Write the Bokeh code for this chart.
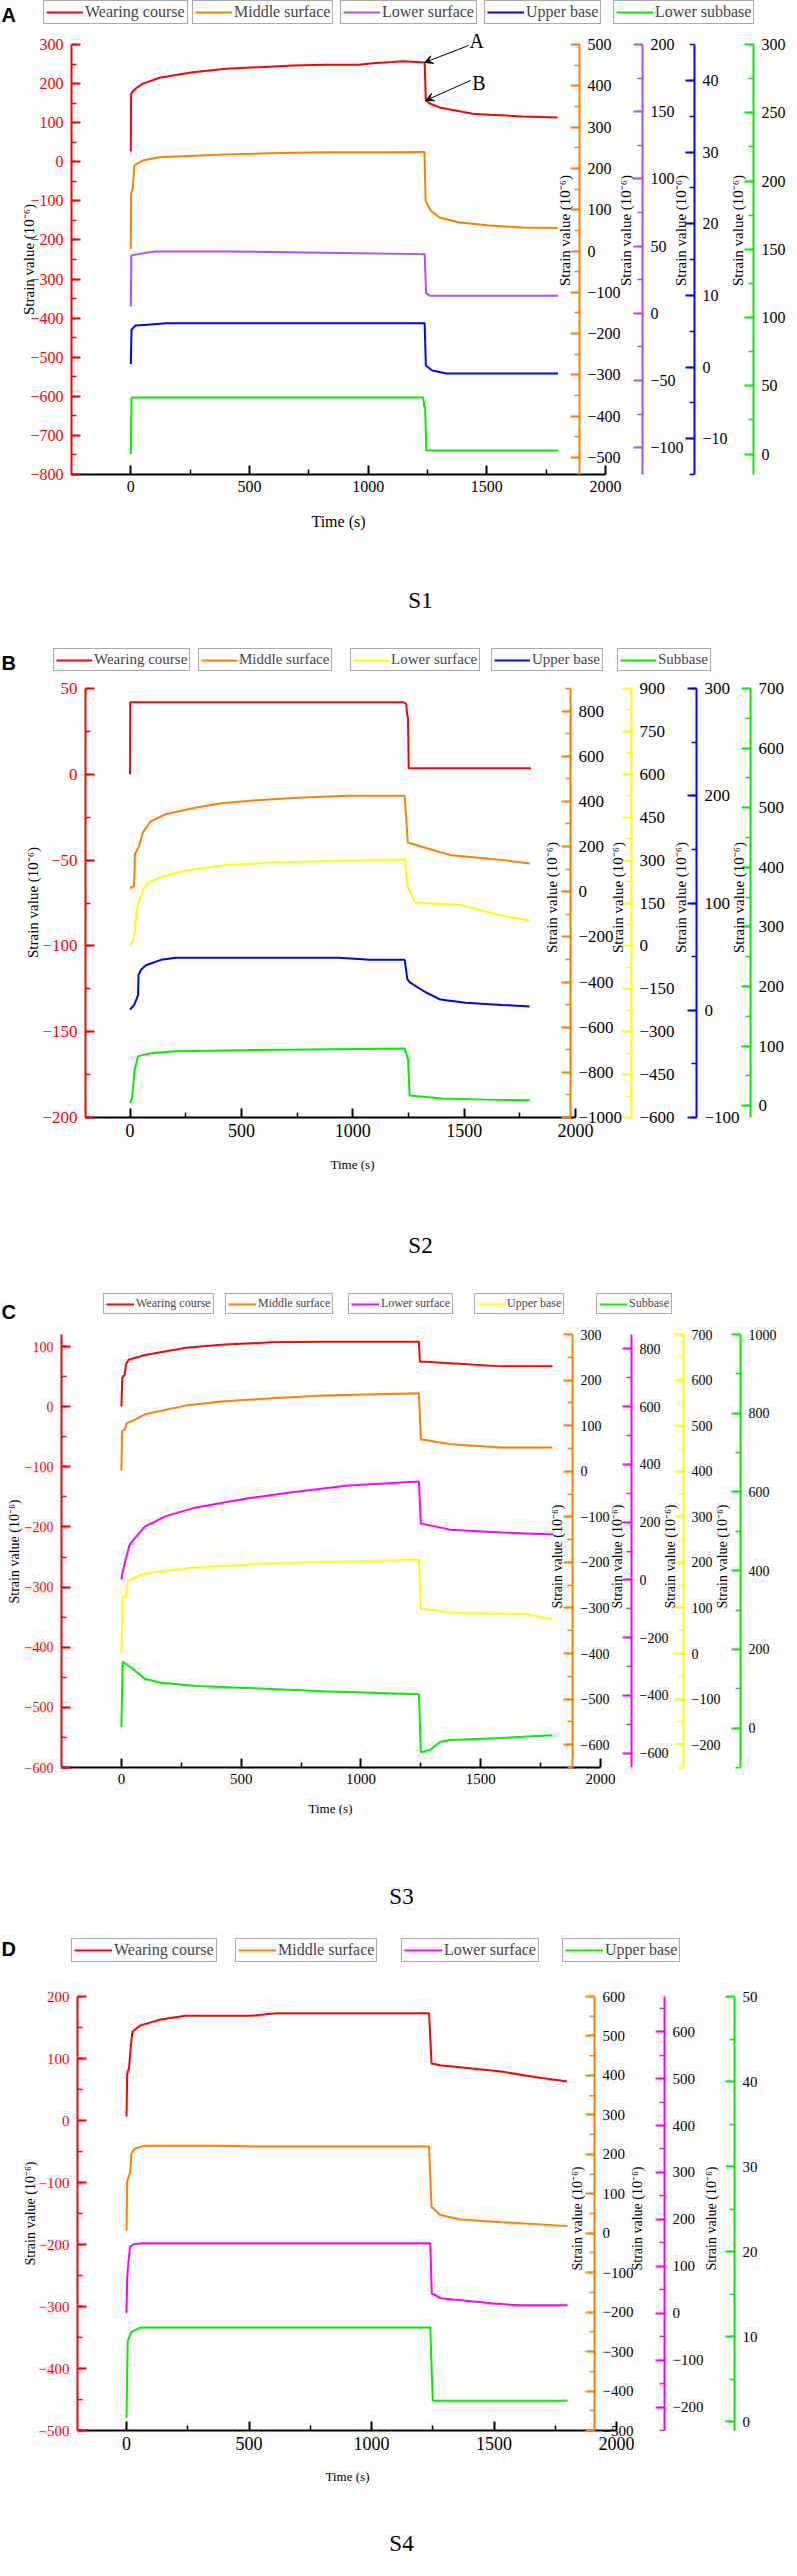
import math
from bokeh.plotting import figure
from bokeh.models import (Range1d, LinearAxis, SingleIntervalTicker, FixedTicker, Legend, LegendItem,
                          Label, Arrow, VeeHead)
from bokeh.layouts import column
from bokeh.embed import file_html
from bokeh.resources import INLINE

# ---------------- data ----------------
LABELS_A = ["Wearing course", "Middle surface", "Lower surface", "Upper base", "Lower subbase"]
LABELS_BC = ["Wearing course", "Middle surface", "Lower surface", "Upper base", "Subbase"]
LABELS_D = ["Wearing course", "Middle surface", "Lower surface", "Upper base"]
CAPTIONS = ["S1", "S2", "S3", "S4"]
PANEL_LETTERS = ["A", "B", "C", "D"]
X_TICKS = [0, 500, 1000, 1500, 2000]
X_MINOR = [250, 750, 1250, 1750]

# Panel A (S1)
A_t_red = [0, 1, 8, 22, 50, 93, 122, 190, 261, 400, 543, 682, 821, 960, 1019, 1103, 1145, 1238, 1243, 1260, 1300, 1385, 1440, 1511, 1650, 1798]
A_v_red = [26, 172, 180, 188, 200, 209, 215, 222, 229, 238, 242, 246, 248, 248, 252, 255, 257, 254, 157, 149, 139, 129, 123, 120, 116, 113]
A_t_mid = [0, 1, 8, 15, 30, 50, 93, 120, 190, 400, 543, 682, 821, 1103, 1237, 1242, 1263, 1300, 1385, 1511, 1650, 1798]
A_v_mid = [5, 139, 151, 207, 213, 219, 224, 227, 229, 234, 236, 238, 239, 239, 240, 122, 98, 81, 69, 62, 57, 56]
A_t_low = [0, 2, 30, 100, 400, 800, 1238, 1244, 1260, 1800]
A_v_low = [5, 43, 44, 46, 46, 45, 44, 15, 13, 13]
A_t_up = [0, 3, 20, 70, 150, 1238, 1243, 1270, 1330, 1800]
A_v_up = [0.4, 5.2, 5.8, 5.9, 6.1, 6.1, 0.2, -0.5, -0.9, -0.9]
A_t_sub = [0, 3, 1232, 1236, 1240, 1245, 1800]
A_v_sub = [0, 41.4, 41.4, 35, 34, 2.6, 2.6]

# Panel B (S2)
B_t_red = [0, 1, 1228, 1240, 1244, 1248, 1251, 1800]
B_v_red = [0, 42, 42, 41, 35, 33, 3.5, 3.5]
B_t_mid = [0, 10, 18, 22, 41, 57, 91, 159, 297, 411, 525, 639, 753, 981, 1233, 1247, 1325, 1439, 1553, 1668, 1794]
B_v_mid = [15, 22, 23, 166, 203, 262, 310, 343, 373, 392, 402, 410, 416, 425, 425, 218, 195, 162, 152, 141, 125]
B_t_low = [0, 15, 22, 30, 58, 81, 161, 251, 412, 641, 982, 1233, 1247, 1280, 1417, 1485, 1578, 1668, 1794]
B_v_low = [2, 19, 57, 127, 197, 222, 246, 264, 281, 292, 299, 302, 204, 152, 146, 143, 124, 106, 89]
B_t_up = [0, 19, 36, 38, 50, 71, 139, 206, 937, 1076, 1233, 1245, 1256, 1325, 1393, 1507, 1668, 1794]
B_v_up = [0.7, 5, 14, 33, 38, 42, 47, 49, 49, 47, 47, 29, 26, 17, 10, 7, 5, 3.5]
B_t_sub = [0, 10, 20, 36, 94, 200, 500, 800, 1233, 1248, 1255, 1400, 1600, 1794]
B_v_sub = [4, 14, 59, 83, 88, 91, 93, 94, 96, 78, 17, 12, 10, 9]

# Panel C (S3)
C_t_red = [0, 4, 14, 19, 30, 99, 269, 417, 630, 843, 1242, 1246, 1373, 1586, 1800]
C_v_red = [0.3, 48.5, 53, 70, 78, 86, 98, 103, 107, 108, 108, 75, 72, 67, 67]
C_t_mid = [0, 3, 15, 22, 56, 99, 269, 417, 630, 843, 1242, 1250, 1373, 1586, 1800]
C_v_mid = [1.6, 87, 92, 105, 113, 125, 144, 153, 160, 166, 171, 70, 59, 52, 52]
C_t_low = [0, 3, 18, 35, 56, 99, 184, 311, 524, 736, 949, 1242, 1250, 1373, 1586, 1800]
C_v_low = [2, 19, 71, 123, 144, 185, 220, 251, 282, 306, 327, 341, 195, 174, 164, 157]
C_t_up = [0, 5, 20, 22, 35, 99, 311, 630, 1242, 1250, 1373, 1692, 1800]
C_v_up = [0, 123, 126, 152, 162, 176, 189, 198, 206, 99, 90, 86, 75]
C_t_sub = [0, 5, 36, 79, 99, 160, 309, 524, 843, 1242, 1250, 1289, 1331, 1373, 1586, 1800]
C_v_sub = [1.5, 169, 156, 135, 125, 116, 107, 102, 94, 86, -62, -55, -35, -30, -25, -18]

# Panel D (S4)
D_t_red = [0, 3, 10, 20, 24, 55, 138, 242, 512, 616, 1235, 1245, 1280, 1530, 1653, 1798]
D_v_red = [6.5, 76, 84, 129, 143, 153, 163, 169, 169, 173, 173, 92, 89, 79, 71, 63]
D_t_mid = [0, 3, 15, 20, 35, 76, 388, 533, 1235, 1245, 1280, 1363, 1530, 1800]
D_v_mid = [7, 131, 156, 202, 215, 222, 222, 220, 220, 67, 46, 35, 28, 18]
D_t_low = [0, 3, 8, 15, 30, 60, 1240, 1246, 1282, 1490, 1595, 1800]
D_v_low = [0.4, 78, 110, 142, 147, 149, 149, 42, 32, 21, 17, 17]
D_t_up = [0, 5, 20, 55, 1240, 1250, 1800]
D_v_up = [0.5, 9.5, 10.6, 11.1, 11.1, 2.5, 2.5]

# axis ranges (lo, hi) and major tick intervals for each series' own axis
A_ranges = [(-800, 300), (-541, 500), (-120, 200), (-15, 45), (-15, 300)]
A_ticks = [100, 100, 50, 10, 50]
B_ranges = [(-200, 50), (-1000, 900), (-600, 900), (-100, 300), (-20, 700)]
B_ticks = [50, 200, 150, 100, 100]
C_ranges = [(-600, 120), (-650, 300), (-650, 850), (-250, 700), (-100, 1000)]
C_ticks = [100, 100, 200, 100, 200]
D_ranges = [(-500, 200), (-500, 600), (-250, 675), (-1, 50)]
D_ticks = [100, 100, 100, 10]

# ---------------- style / layout (page pixel positions) ----------------
SERIF = "Liberation Serif"
SANS = "Liberation Sans"
UNIT = "Strain value (10\u207b\u2076)"
RED = "#FF0000"; ORANGE = "#FF8000"; PURPLE = "#B24BFF"; BLUE = "#0000FF"
GREEN = "#00F000"; YELLOW = "#FFFF00"; MAGENTA = "#FF00FF"
PAGE_LEFT, PAGE_RIGHT = 8, 796

PANELS = [
    dict(series=[(A_t_red, A_v_red), (A_t_mid, A_v_mid), (A_t_low, A_v_low), (A_t_up, A_v_up), (A_t_sub, A_v_sub)],
         labels=LABELS_A, ranges=A_ranges, ticks=A_ticks, colors=[RED, ORANGE, PURPLE, BLUE, GREEN],
         fig=(8, 648), L=79, T=52, W2000=534, H=430, x0=-250,
         axes_px=[587, 650, 702, 761], titles_px=[572, 633, 688, 745], title_py=238,
         left_title=(36, 267), time=(346, 529), caption=(428, 608), letter=22,
         boxes=[51, 200, 348, 492, 621], box_bottom=32, leg_fs=16, leg_gw=37, leg_h=16,
         tick_fs=16, xtick_fs=16, time_fs=16, ylab_fs=15, arrows=True),
    dict(series=[(B_t_red, B_v_red), (B_t_mid, B_v_mid), (B_t_low, B_v_low), (B_t_up, B_v_up), (B_t_sub, B_v_sub)],
         labels=LABELS_BC, ranges=B_ranges, ticks=B_ticks, colors=[RED, ORANGE, YELLOW, BLUE, GREEN],
         fig=(648, 1296), L=93, T=696, W2000=490, H=429, x0=-200,
         axes_px=[578, 639, 704, 758], titles_px=[559, 625, 688, 746], title_py=905,
         left_title=(40, 910), time=(360, 1172), caption=(428, 1253), letter=670,
         boxes=[61, 206, 358, 499, 625], box_bottom=679, leg_fs=15, leg_gw=36, leg_h=16,
         tick_fs=17, xtick_fs=18, time_fs=13, ylab_fs=15, arrows=False),
    dict(series=[(C_t_red, C_v_red), (C_t_mid, C_v_mid), (C_t_low, C_v_low), (C_t_up, C_v_up), (C_t_sub, C_v_sub)],
         labels=LABELS_BC, ranges=C_ranges, ticks=C_ticks, colors=[RED, ORANGE, MAGENTA, YELLOW, GREEN],
         fig=(1296, 1942), L=69, T=1343, W2000=539, H=433, x0=-250,
         axes_px=[580, 639, 691, 748], titles_px=[565, 625, 678, 730], title_py=1565,
         left_title=(22, 1560), time=(338, 1817), caption=(409, 1905), letter=1320,
         boxes=[111, 233, 356, 482, 604], box_bottom=1323, leg_fs=12, leg_gw=28, leg_h=12,
         tick_fs=14, xtick_fs=15, time_fs=13, ylab_fs=14, arrows=False),
    dict(series=[(D_t_red, D_v_red), (D_t_mid, D_v_mid), (D_t_low, D_v_low), (D_t_up, D_v_up)],
         labels=LABELS_D, ranges=D_ranges, ticks=D_ticks, colors=[RED, ORANGE, MAGENTA, GREEN],
         fig=(1942, 2565), L=85, T=2005, W2000=539, H=434, x0=-200,
         axes_px=[602, 672, 742], titles_px=[585, 645, 719], title_py=2227,
         left_title=(38, 2222), time=(355, 2485), caption=(409, 2552), letter=1957,
         boxes=[79, 243, 409, 570], box_bottom=1971, leg_fs=16, leg_gw=38, leg_h=18,
         tick_fs=15, xtick_fs=18, time_fs=13, ylab_fs=14, arrows=False),
]


def style_axis(ax, c, fs, label_color="black"):
    ax.axis_line_color = c
    ax.axis_line_width = 2
    ax.major_tick_line_color = c
    ax.minor_tick_line_color = c
    ax.major_tick_in = 9; ax.major_tick_out = 0
    ax.minor_tick_in = 5; ax.minor_tick_out = 0
    ax.major_tick_line_width = 2
    ax.minor_tick_line_width = 1.5
    ax.major_label_text_color = label_color
    ax.major_label_text_font = SERIF
    ax.major_label_text_font_size = f"{fs}px"
    ax.major_label_standoff = 8
    ax.axis_label = None


def text(p, x, y, s, size, font=SERIF, style="normal", align="center", angle=0.0):
    p.add_layout(Label(x=x, y=y, text=s, text_align=align, text_baseline="middle", angle=angle,
                       text_font=font, text_font_style=style, text_font_size=f"{size}px",
                       text_color="black"))


def build(idx, spec):
    L, T, Wp, H = spec["L"], spec["T"], spec["W2000"], spec["H"]
    x0 = spec["x0"]
    ftop, fbot = spec["fig"]
    r0 = spec["ranges"][0]

    def xdat(px):
        return x0 + (px - L) / Wp * (2000 - x0)

    def ydat(py, rng=r0):
        lo, hi = rng
        return hi - (py - T) / H * (hi - lo)

    def pt(px, py):
        return xdat(px), ydat(py)

    def px_of(t):
        return L + (t - x0) / (2000 - x0) * Wp

    def py_of(v):
        return T + (r0[1] - v) / (r0[1] - r0[0]) * H

    extra = {f"y{k}": Range1d(ydat(fbot, rg), ydat(ftop, rg))
             for k, rg in enumerate(spec["ranges"][1:])}
    p = figure(frame_width=PAGE_RIGHT - PAGE_LEFT, frame_height=fbot - ftop,
               x_range=Range1d(xdat(PAGE_LEFT), xdat(PAGE_RIGHT)),
               y_range=Range1d(ydat(fbot), ydat(ftop)),
               output_backend="svg", toolbar_location=None, min_border=0,
               outline_line_color=None, background_fill_color="white", border_fill_color="white")
    p.extra_y_ranges = extra
    p.grid.visible = False

    # x axis: drawn at the bottom of the first series' range, only up to 2000 s
    xa = p.xaxis[0]
    xa.ticker = FixedTicker(ticks=X_TICKS, minor_ticks=X_MINOR)
    xa.fixed_location = r0[0]
    xa.bounds = (x0, 2000)
    style_axis(xa, "black", spec["xtick_fs"])
    xa.major_label_standoff = 6

    # left (first series) axis
    ya = p.yaxis[0]
    c0 = spec["colors"][0]
    ya.ticker = SingleIntervalTicker(interval=spec["ticks"][0], num_minor_ticks=2)
    ya.fixed_location = x0
    ya.bounds = r0
    style_axis(ya, c0, spec["tick_fs"], label_color=c0)

    # right axes, each at its own place
    n = len(spec["ranges"])
    for k in range(1, n):
        c = spec["colors"][k]
        ax = LinearAxis(y_range_name=f"y{k-1}",
                        ticker=SingleIntervalTicker(interval=spec["ticks"][k], num_minor_ticks=2),
                        fixed_location=xdat(spec["axes_px"][k - 1]),
                        bounds=spec["ranges"][k])
        style_axis(ax, c, spec["tick_fs"])
        p.add_layout(ax, "right")

    # lines
    renderers = []
    for k, (t, v) in enumerate(spec["series"]):
        rn = "default" if k == 0 else f"y{k-1}"
        renderers.append(p.line(t, v, line_color=spec["colors"][k], line_width=2, y_range_name=rn))

    # separate boxed legend entries above the plot
    for k, bx in enumerate(spec["boxes"]):
        leg = Legend(items=[LegendItem(label=spec["labels"][k], renderers=[renderers[k]])],
                     location=(bx - PAGE_LEFT, fbot - spec["box_bottom"]),
                     orientation="horizontal", margin=0, padding=2, spacing=0,
                     border_line_color="#555555", border_line_width=1.5,
                     background_fill_color="white", background_fill_alpha=1,
                     label_text_font=SERIF, label_text_font_size=f"{spec['leg_fs']}px",
                     glyph_width=spec["leg_gw"], glyph_height=spec["leg_h"],
                     label_height=spec["leg_h"], label_standoff=2)
        p.add_layout(leg)

    # axis titles
    x, y = pt(*spec["left_title"])
    text(p, x, y, UNIT, spec["ylab_fs"], angle=math.pi / 2)
    for ux in spec["titles_px"]:
        x, y = pt(ux, spec["title_py"])
        text(p, x, y, UNIT, spec["ylab_fs"], angle=math.pi / 2)
    x, y = pt(*spec["time"])
    text(p, x, y, "Time (s)", spec["time_fs"])

    # panel letter and caption
    x, y = pt(PAGE_LEFT + 1, spec["letter"])
    text(p, x, y, PANEL_LETTERS[idx], 20, font=SANS, style="bold", align="left")
    x, y = pt(*spec["caption"])
    text(p, x, y, CAPTIONS[idx], 23)

    # A / B annotations (panel A): tips taken from the wearing-course data at the drop
    if spec["arrows"]:
        t, v = spec["series"][0]
        diffs = [v[i + 1] - v[i] for i in range(len(v) - 1)]
        i = diffs.index(min(diffs))
        tips = [(t[i], v[i]), (t[i + 1], v[i + 1])]
        offsets = [((52, -21), (44, -17)), ((53, -17), (45, -20))]
        for name, tip, (lab_off, start_off) in zip(["A", "B"], tips, offsets):
            tpx, tpy = px_of(tip[0]), py_of(tip[1])
            x, y = pt(tpx + lab_off[0], tpy + lab_off[1])
            text(p, x, y, name, 20)
            sx, sy = pt(tpx + start_off[0], tpy + start_off[1])
            p.add_layout(Arrow(end=VeeHead(size=8, fill_color="black", line_color="black", line_width=1),
                               x_start=sx, y_start=sy, x_end=tip[0], y_end=tip[1],
                               line_color="black", line_width=1))
    return p


plots = [build(i, s) for i, s in enumerate(PANELS)]
layout = column(*plots, spacing=0)
open("out.html", "w").write(file_html(layout, INLINE))
